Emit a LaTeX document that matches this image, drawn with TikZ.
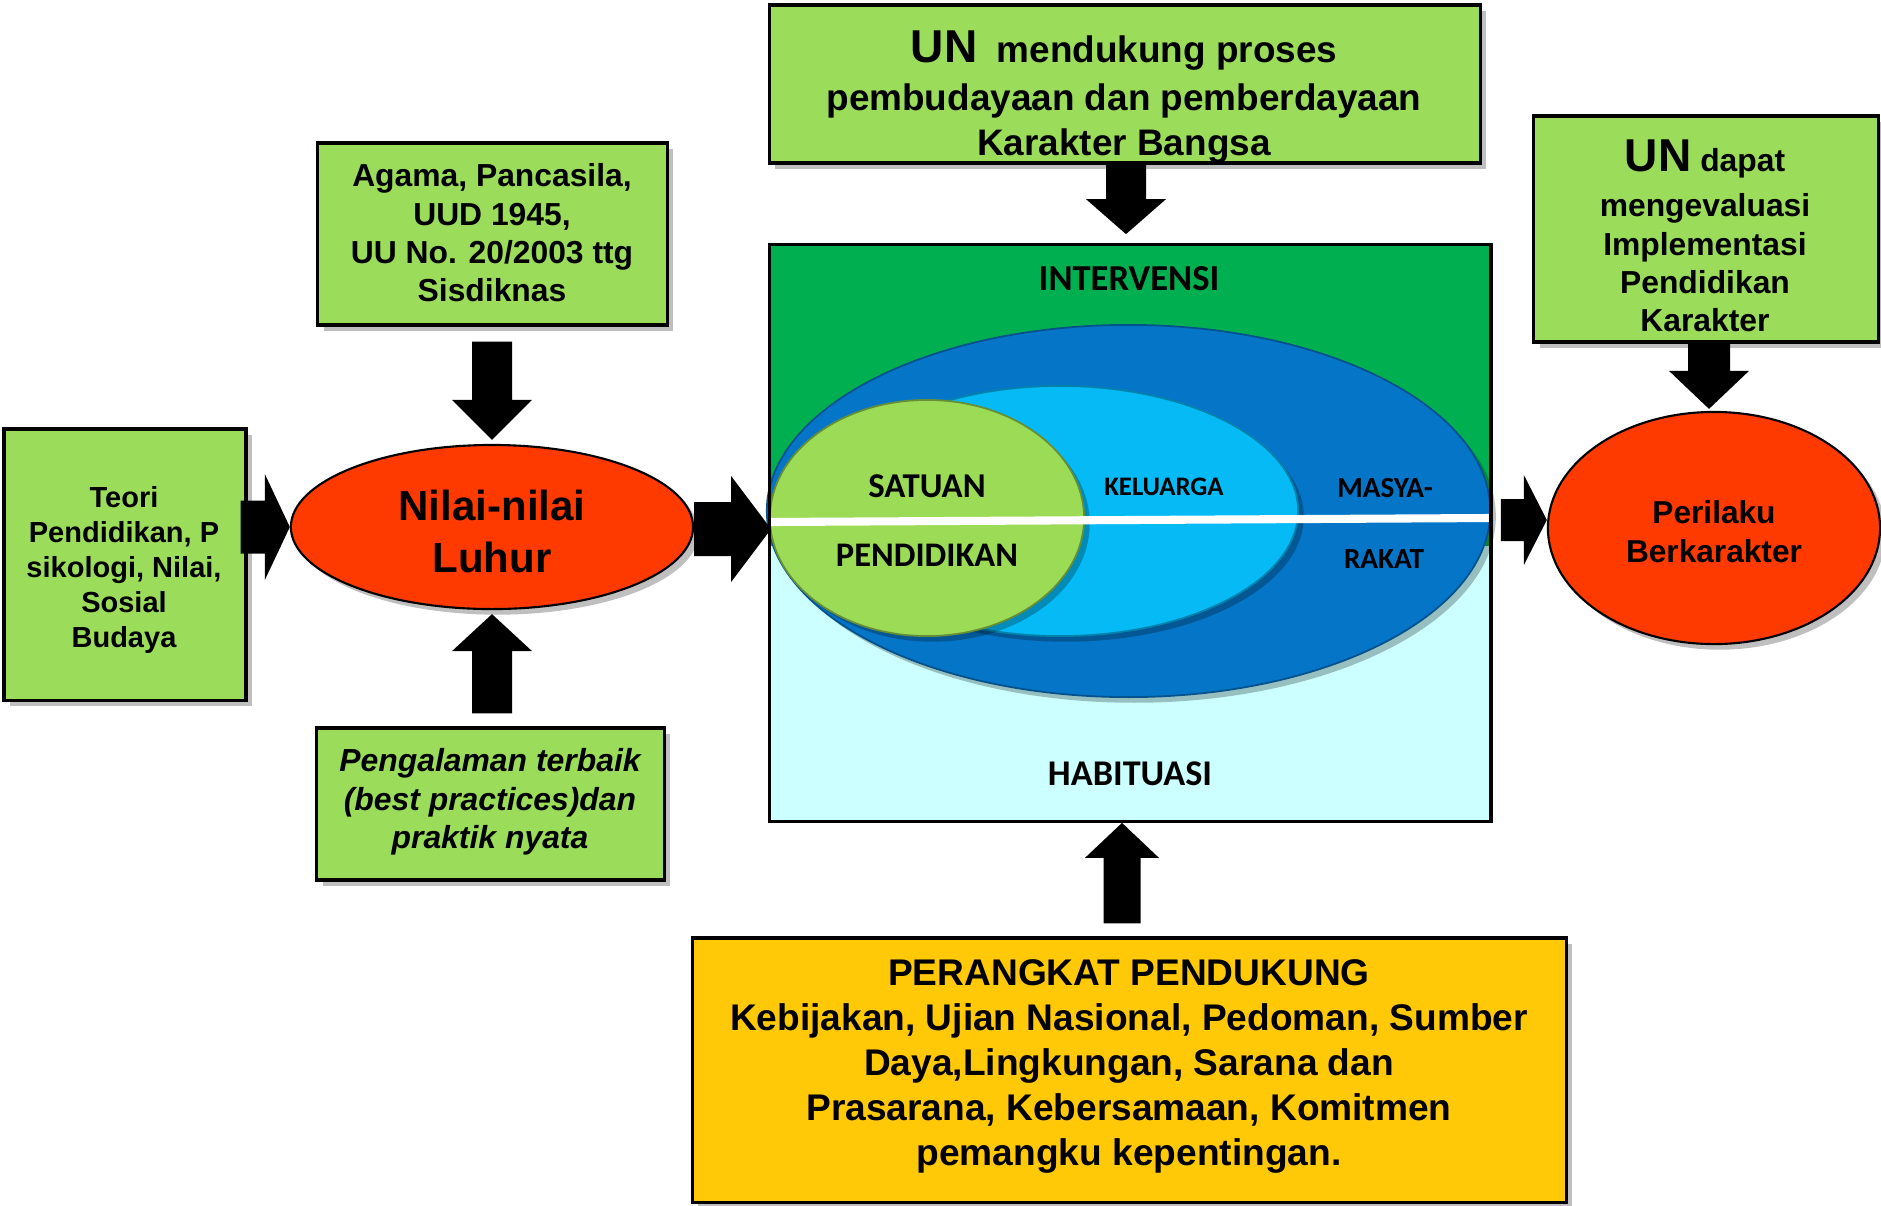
\documentclass[tikz,border=0pt]{standalone}
\usepackage{fontspec}
\setmainfont{Liberation Sans}
\newfontfamily\calibfont{Carlito}
\usetikzlibrary{calc,shapes.geometric,shadows}

\definecolor{boxgreen}{RGB}{155,221,90}
\definecolor{boxyellow}{RGB}{255,201,8}
\definecolor{ovalred}{RGB}{255,58,0}
\definecolor{intgreen}{RGB}{0,176,80}
\definecolor{habcyan}{RGB}{204,255,255}
\definecolor{masblue}{RGB}{5,117,200}
\definecolor{kelblue}{RGB}{5,186,245}
\definecolor{satgreen}{RGB}{155,219,85}

\newcommand\setfs[2]{\fontsize{#1}{#2}\selectfont}

% block arrows: #1 start, #2 tip, #3 shaft half-width, #4 head half-width, #5 head length
\newcommand\blkright[5]{%
  \coordinate (blk-a) at (#1 |- #2);
  \fill[blkfill] ($(blk-a)+(0,-#3)$) -- ($(#2)+(-#5,-#3)$) -- ($(#2)+(-#5,-#4)$) -- (#2)
    -- ($(#2)+(-#5,#4)$) -- ($(#2)+(-#5,#3)$) -- ($(blk-a)+(0,#3)$) -- cycle;}
\newcommand\blkdown[5]{%
  \coordinate (blk-a) at (#2 |- #1);
  \fill[blkfill] ($(blk-a)+(-#3,0)$) -- ($(#2)+(-#3,-#5)$) -- ($(#2)+(-#4,-#5)$) -- (#2)
    -- ($(#2)+(#4,-#5)$) -- ($(#2)+(#3,-#5)$) -- ($(blk-a)+(#3,0)$) -- cycle;}
\newcommand\blkup[5]{%
  \coordinate (blk-a) at (#2 |- #1);
  \fill[blkfill] ($(blk-a)+(-#3,0)$) -- ($(#2)+(-#3,#5)$) -- ($(#2)+(-#4,#5)$) -- (#2)
    -- ($(#2)+(#4,#5)$) -- ($(#2)+(#3,#5)$) -- ($(blk-a)+(#3,0)$) -- cycle;}

\begin{document}
\begin{tikzpicture}[x=0.01cm,y=-0.01cm,
  softshadow/.style={drop shadow={shadow xshift=1.6pt,shadow yshift=-1.6pt,fill=black,opacity=0.25}},
  gbox/.style={draw=black,line width=0.9pt,fill=boxgreen,inner sep=0pt,softshadow},
  ybox/.style={gbox,fill=boxyellow},
  redoval/.style={ellipse,draw=black,line width=0.6pt,fill=ovalred,inner sep=0pt,softshadow},
  txt/.style={align=center,inner sep=0pt},
  lbl/.style={inner sep=0pt},
  ring/.style={ellipse,inner sep=0pt,line width=0.5pt,softshadow},
  blkfill/.style={fill=black}]

\useasboundingbox (0,0) rectangle (1881,1205);

% ---- source boxes ----
\node[gbox,minimum width=2.42cm,minimum height=2.71cm] (teori) at (125,564.5) {};
\node[txt,font=\setfs{8.25}{9.96}\bfseries] (teoriT) at (124,570)
  {Teori\\Pendidikan, P\\sikologi, Nilai,\\Sosial\\Budaya};

\node[gbox,minimum width=3.49cm,minimum height=1.82cm] (agama) at (492.5,234) {};
\node[txt,font=\setfs{9.05}{10.9}\bfseries] (agamaT) at (492,233)
  {Agama, Pancasila,\\UUD 1945,\\UU No. 20/2003 ttg\\Sisdiknas};

\node[gbox,minimum width=3.47cm,minimum height=1.52cm] (peng) at (490.5,804) {};
\node[txt,font=\setfs{9.07}{10.95}\bfseries\itshape] (pengT) at (490,802)
  {Pengalaman terbaik\\(best practices)dan\\praktik nyata};

\node[redoval,minimum width=4.02cm,minimum height=1.64cm] (nilai) at (492,527) {};
\node[txt,font=\setfs{11.95}{14.8}\bfseries] (nilaiT) at (492,531) {Nilai-nilai\\Luhur};

% ---- top and right boxes ----
\node[gbox,minimum width=7.10cm,minimum height=1.58cm] (unTop) at (1125,84) {};
\node[txt,font=\setfs{10.5}{12.7}\bfseries] (unTopT) at (1124,97)
  {{\setfs{13.1}{13.1}UN}\hspace{5.5pt}mendukung proses\\[1.1pt]pembudayaan dan pemberdayaan\\Karakter Bangsa};

\node[gbox,minimum width=3.44cm,minimum height=2.26cm] (unRight) at (1706,229) {};
\node[txt,font=\setfs{9.05}{10.9}\bfseries] (unRightT) at (1705,236)
  {{\setfs{13.1}{13.1}UN} dapat\\[2pt]mengevaluasi\\Implementasi\\Pendidikan\\Karakter};

\node[redoval,minimum width=3.32cm,minimum height=2.32cm] (perilaku) at (1714,528) {};
\node[txt,font=\setfs{9}{11.1}\bfseries] (perilakuT) at (1714,532) {Perilaku\\Berkarakter};

% ---- bottom box ----
\node[ybox,minimum width=8.73cm,minimum height=2.64cm] (perangkat) at (1129.5,1070) {};
\node[txt,font=\setfs{10.55}{12.8}\bfseries] (perangkatT) at (1129,1066)
  {PERANGKAT PENDUKUNG\\Kebijakan, Ujian Nasional, Pedoman, Sumber\\Daya,Lingkungan, Sarana dan\\Prasarana, Kebersamaan, Komitmen\\pemangku kepentingan.};

% ---- central panel ----
\node[minimum width=7.20cm,minimum height=5.76cm,inner sep=0pt] (panel) at (1130,533) {};
\fill[intgreen] (panel.north west) rectangle ($(panel.east)+(0,13)$);
\fill[habcyan] ($(panel.west)+(0,13)$) rectangle (panel.south east);

\node[ring,fill=masblue,draw=masblue!70!black,minimum width=7.23cm,minimum height=3.72cm] (masy) at (1128.5,511) {};
\node[ring,fill=kelblue,draw=kelblue!70!black,minimum width=4.76cm,minimum height=2.50cm] (kel) at (1060,511) {};
\node[ring,fill=satgreen,draw=satgreen!65!black,minimum width=3.14cm,minimum height=2.36cm] (sat) at (927,518) {};

\draw[white,line width=2.3pt] ($(panel.west)+(0,-11)$) -- ($(panel.east)+(0,-15)$);
\draw[line width=0.9pt] (panel.north west) rectangle (panel.south east);

\node[lbl,font=\calibfont\bfseries\setfs{10.4}{12}] (intv) at (1129,279) {INTERVENSI};
\node[lbl,font=\calibfont\bfseries\setfs{10.3}{12}] (habit) at (1130,774) {HABITUASI};
\node[lbl,font=\calibfont\bfseries\setfs{9.9}{12}] (satT) at (927,486) {SATUAN};
\node[lbl,font=\calibfont\bfseries\setfs{9.8}{12}] (pendT) at (927,555) {PENDIDIKAN};
\node[lbl,font=\calibfont\bfseries\setfs{7.6}{9}] (kelT) at (1164,487) {KELUARGA};
\node[lbl,font=\calibfont\bfseries\setfs{8.3}{10}] (masyT) at (1385,488) {MASYA-};
\node[lbl,font=\calibfont\bfseries\setfs{8.3}{10}] (rakT) at (1384,559) {RAKAT};

% ---- block arrows ----
\coordinate (a1s) at ($(teori.east)+(-7,0)$);
\coordinate (a1t) at (nilai.west);
\blkright{a1s}{a1t}{26.5}{53}{25}

\coordinate (b1s) at ($(agama.south)+(0,15)$);
\coordinate (b1t) at ($(nilai.north)+(0,-4)$);
\blkdown{b1s}{b1t}{20}{40}{40}

\coordinate (c1s) at ($(peng.north)+(0,-13)$);
\coordinate (c1t) at ($(nilai.south)+(0,4)$);
\blkup{c1s}{c1t}{20}{40}{37}

\coordinate (d1s) at (nilai.east);
\coordinate (d1t) at ($(panel.west)+(2,-4)$);
\blkright{d1s}{d1t}{27}{53}{40}

\coordinate (e1s) at (unTop.south);
\coordinate (e1t) at ($(panel.north)+(-4,-10)$);
\blkdown{e1s}{e1t}{20}{40}{35}

\coordinate (f1s) at ($(perangkat.north)+(0,-13)$);
\coordinate (f1t) at ($(panel.south)+(-8,1)$);
\blkup{f1s}{f1t}{18.5}{37}{35}

\coordinate (g1s) at ($(panel.east)+(10,0)$);
\coordinate (g1t) at ($(perilaku.west)+(0,-8)$);
\blkright{g1s}{g1t}{21}{45}{23}

\coordinate (h1s) at (unRight.south);
\coordinate (h1t) at ($(perilaku.north)+(-5,-2)$);
\blkdown{h1s}{h1t}{21}{40}{38}

\end{tikzpicture}
\end{document}
